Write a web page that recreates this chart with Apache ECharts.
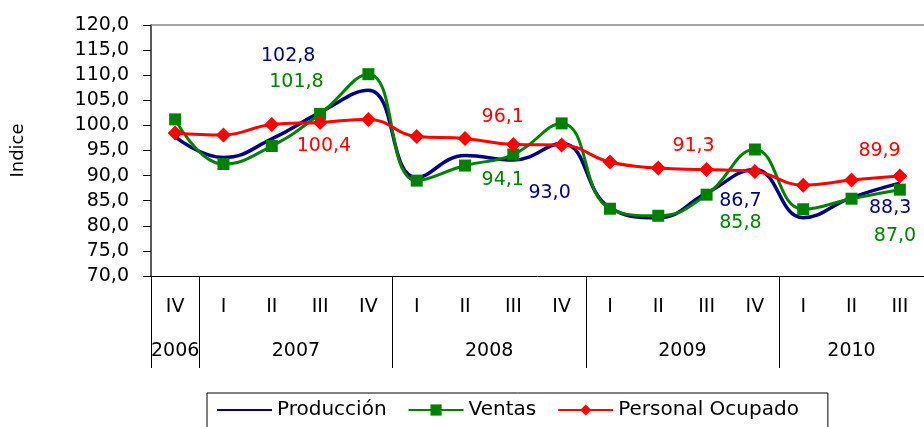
<!DOCTYPE html>
<html>
<head>
<meta charset="utf-8">
<script src="https://cdn.jsdelivr.net/npm/echarts@6/dist/echarts.min.js"></script>
<style>html,body{margin:0;padding:0;background:#fff}#c{width:924px;height:427px}</style>
</head>
<body>
<div id="c"></div>
<script>
const quarters = ['IV','I','II','III','IV','I','II','III','IV','I','II','III','IV','I','II','III'];
const years = ['2006','2007','2008','2009','2010'];
const yearCounts = [1,4,4,4,3];
const produccion = [97.7, 93.6, 97.3, 102.6, 107.0, 89.6, 94.0, 93.1, 96.4, 83.6, 81.6, 86.5, 91.2, 81.6, 85.6, 88.5];
const ventas =     [101.2, 92.3, 95.9, 102.3, 110.2, 89.0, 92.0, 94.2, 100.4, 83.4, 82.0, 86.2, 95.2, 83.3, 85.4, 87.2];
const personal =   [98.5, 98.1, 100.2, 100.6, 101.2, 97.8, 97.4, 96.2, 96.1, 92.7, 91.5, 91.2, 90.8, 88.1, 89.1, 89.9];
// annotation texts: [text, series, position in category units, value level]
const annotText = ['102,8','101,8','100,4','96,1','94,1','93,0','91,3','86,7','85,8','89,9','88,3','87,0'];
const annotSeries = [0,1,2,2,1,0,2,0,1,2,0,1];
const annotPos = [2.84, 3.01, 3.58, 7.28, 7.28, 8.25, 11.23, 12.2, 12.2, 15.08, 15.3, 15.4];
const annotVal = [113.8, 108.6, 95.8, 101.6, 89.2, 86.6, 95.8, 85.0, 80.6, 94.8, 83.6, 78.0];

const colors = ['#000080', '#008000', '#FF0000'];
const FONT = 'DejaVu Sans';

// year boundaries and label centers from counts
const yearTicks = [0];
const yearCenters = [];
let acc = 0;
yearCounts.forEach(c => { yearCenters.push(acc + c / 2); acc += c; yearTicks.push(acc); });

const chart = echarts.init(document.getElementById('c'));
chart.setOption({
  animation: false,
  textStyle: { fontFamily: FONT },
  grid: { left: 151, top: 25, bottom: 151, right: -9, containLabel: false },
  legend: {
    left: 207, top: 393,
    padding: [7, 29, 12, 9],
    itemGap: 21, itemWidth: 55, itemHeight: 14,
    borderColor: '#000', borderWidth: 1,
    textStyle: { fontFamily: FONT, fontSize: 20, color: '#000' },
    data: [
      { name: 'Producción', itemStyle: { color: 'rgba(0,0,0,0)', borderWidth: 0 } },
      'Ventas', 'Personal Ocupado'
    ]
  },
  xAxis: [
    {
      type: 'category', data: quarters, position: 'bottom', boundaryGap: true,
      axisLine: { lineStyle: { color: '#000', width: 1 } },
      axisTick: { interval: 0, length: 47, lineStyle: { color: '#000', width: 1 } },
      axisLabel: { interval: 0, margin: 22, color: '#000', fontSize: 19, fontFamily: FONT },
      splitLine: { show: false }
    },
    {
      type: 'value', min: 0, max: quarters.length, position: 'bottom',
      axisLine: { show: false },
      axisTick: { show: true, customValues: yearTicks, length: 92, lineStyle: { color: '#000', width: 1 } },
      axisLabel: {
        show: true, customValues: yearCenters, margin: 66, color: '#000', fontSize: 19, fontFamily: FONT,
        formatter: v => { const i = yearCenters.indexOf(v); return i >= 0 ? years[i] : ''; }
      },
      splitLine: { show: false }
    },
    {
      type: 'value', min: 0, max: quarters.length, position: 'top',
      axisLine: { show: true, lineStyle: { color: '#888', width: 1.5 } },
      axisTick: { show: false }, axisLabel: { show: false }, splitLine: { show: false }
    }
  ],
  yAxis: {
    type: 'value', min: 70, max: 120, interval: 5,
    name: 'Indice', nameLocation: 'middle', nameGap: 124, nameRotate: 90,
    nameTextStyle: { fontFamily: FONT, fontSize: 18, color: '#000' },
    axisLine: { show: true, lineStyle: { color: '#222', width: 1.5 } },
    axisTick: { show: true, length: 8, lineStyle: { color: '#000' } },
    axisLabel: { margin: 22, color: '#000', fontSize: 19, fontFamily: FONT, formatter: v => v.toFixed(1).replace('.', ',') },
    splitLine: { show: false }
  },
  series: [
    { name: 'Producción', type: 'line', data: produccion, smooth: 0.45, symbol: 'none',
      lineStyle: { color: colors[0], width: 3.5 }, itemStyle: { color: colors[0] }, z: 3 },
    { name: 'Ventas', type: 'line', data: ventas, smooth: 0.45, symbol: 'rect', symbolSize: 12,
      lineStyle: { color: colors[1], width: 3 }, itemStyle: { color: colors[1] }, z: 4 },
    { name: 'Personal Ocupado', type: 'line', data: personal, smooth: 0.45, symbol: 'diamond', symbolSize: 15,
      lineStyle: { color: colors[2], width: 3 }, itemStyle: { color: colors[2] }, z: 5 }
  ]
});

const texts = annotText.map((t, i) => ({
  type: 'text',
  x: chart.convertToPixel({ xAxisIndex: 1 }, annotPos[i]),
  y: chart.convertToPixel({ yAxisIndex: 0 }, annotVal[i]),
  style: { text: t, fill: colors[annotSeries[i]], font: '19px "DejaVu Sans"', align: 'center', verticalAlign: 'middle' },
  z: 10
}));
chart.setOption({ graphic: texts });
</script>
</body>
</html>
